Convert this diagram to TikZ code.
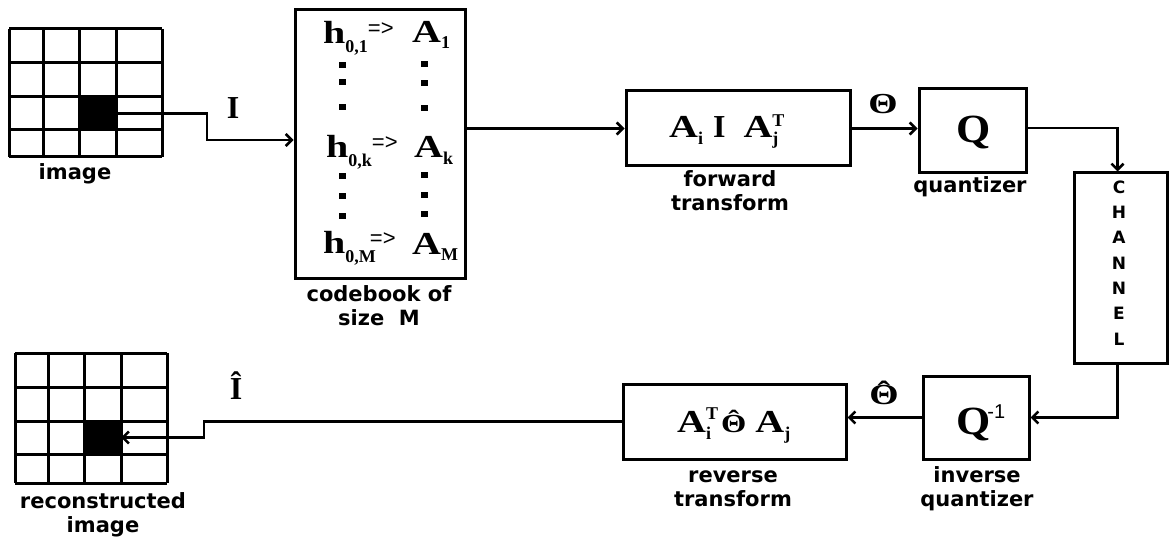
\documentclass[tikz,border=0pt]{standalone}
\usepackage{fontspec}
\setmainfont{Liberation Serif}
\newfontfamily\labfont{DejaVu Sans}
\newfontfamily\supfont{Liberation Sans}
\usetikzlibrary{arrows.meta,calc}

% lowered / raised small pieces for sub- and superscripts
\newcommand\lo[2]{\raisebox{-#1}{\fontsize{18}{18}\selectfont #2}}
\newcommand\hi[2]{\raisebox{#1}{\fontsize{18}{18}\selectfont #2}}
\newcommand\arrw{\raisebox{8pt}{\fontsize{22}{22}\selectfont\supfont\mdseries =>}}
% Theta with a circumflex on top
\newcommand\thetahat[1]{\ooalign{\char"0398\cr\hidewidth\raisebox{#1}{\char"02C6}\hidewidth\cr}}
% wide bold letters
\newcommand\wide[1]{\scalebox{1.25}[1]{#1}}

\tikzset{
  blockbox/.style={draw, line width=3pt, inner sep=0pt},
  conn/.style={line width=2.5pt},
  arr/.style={conn, -{Straight Barb[length=6pt,width=12pt]}},
  lbl/.style={font=\labfont\bfseries\fontsize{21}{24}\selectfont, align=center, inner sep=0pt},
  mtext/.style={font=\bfseries\fontsize{32}{32}\selectfont, inner sep=0pt},
  gridline/.style={line width=3pt},
  cellfill/.style={fill=black, inner sep=0pt},
  dotfill/.style={fill=black},
}

\begin{document}
\begin{tikzpicture}[x=1pt,y=-1pt]
\useasboundingbox (0,0) rectangle (1169,540);

% ---------- input image grid ----------
\node[cellfill, minimum width=37pt, minimum height=33pt] (c1) at (97.5,113.5) {};
\foreach \x in {9,43,79,116,162} \draw[gridline] (\x,29) -- (\x,157);
\foreach \y in {29,63,97,130,157} \draw[gridline] (9,\y) -- (162,\y);
\node[lbl, anchor=base] (limg) at (75,179) {image};

% ---------- codebook ----------
\node[blockbox, minimum width=170pt, minimum height=268pt] (cb) at (380,144) {};
\node[mtext, anchor=base west] (h1) at (323,44) {\wide{h}\lo{9pt}{0,1}\arrw};
\node[mtext, anchor=base west] (a1) at (412,43) {\wide{A}\lo{6pt}{1}};
\node[mtext, anchor=base west] (hk) at (326,158) {\wide{h}\lo{9pt}{0,k}\arrw};
\node[mtext, anchor=base west] (ak) at (414,158) {\wide{A}\lo{6pt}{k}};
\node[mtext, anchor=base west] (hm) at (323,253) {\wide{h}\lo{9pt}{0,M}\kern-6pt\arrw};
\node[mtext, anchor=base west] (am) at (412,254) {\wide{A}\lo{6pt}{M}};
\foreach \y in {65,82,107,176,196,216} \fill[dotfill] (339,\y-3) rectangle ++(7,6);
\foreach \y in {64,83,108,175,195,214} \fill[dotfill] (421,\y-3) rectangle ++(7,6);
\node[lbl, anchor=base] (lcb) at (379,325) {codebook of\\size\ \ M};

% ---------- forward transform ----------
\node[blockbox, minimum width=224pt, minimum height=75pt] (ft) at (738,128.5) {};
\node[mtext, anchor=base west] (ftx) at (669,138)
  {\wide{A}\lo{7pt}{i}\hspace{10pt}I\hspace{18pt}\wide{A}\makebox[0pt][l]{\hi{11pt}{T}}\lo{7pt}{j}};
\node[lbl, anchor=base] (lft) at (730,210) {forward\\transform};

% ---------- quantizer ----------
\node[blockbox, minimum width=107pt, minimum height=84pt] (q) at (972.5,131) {};
\node[font=\bfseries\fontsize{40}{40}\selectfont, inner sep=0pt] (qx) at (974,133) {\scalebox{1.1}[1]{Q}};
\node[lbl, anchor=base] (lq) at (970,193) {quantizer};

% ---------- channel ----------
\node[blockbox, minimum width=93pt, minimum height=190pt] (ch) at (1120.5,268) {};
\node[font=\labfont\bfseries\fontsize{17}{25.3}\selectfont, align=center, inner sep=0pt, anchor=base]
  (chx) at (1119,345) {C\\H\\A\\N\\N\\E\\L};

% ---------- inverse quantizer ----------
\node[blockbox, minimum width=106pt, minimum height=83pt] (qi) at (976,417.5) {};
\node[font=\bfseries\fontsize{40}{40}\selectfont, inner sep=0pt, anchor=base west] (qix) at (956,434)
  {\scalebox{1.1}[1]{Q}\kern-3pt\raisebox{16pt}{\supfont\mdseries\fontsize{20}{20}\selectfont -1}};
\node[lbl, anchor=base] (lqi) at (977,506) {inverse\\quantizer};

% ---------- reverse transform ----------
\node[blockbox, minimum width=223pt, minimum height=75pt] (rt) at (734.5,421.5) {};
\node[mtext, anchor=base west] (rtx) at (677,432)
  {\wide{A}\makebox[0pt][l]{\hi{13pt}{T}}\lo{7pt}{i}\hspace{10pt}{\fontsize{26}{26}\selectfont\wide{\thetahat{4pt}}}\hspace{9pt}\wide{A}\lo{7pt}{j}};
\node[lbl, anchor=base] (lrt) at (733,506) {reverse\\transform};

% ---------- reconstructed image grid ----------
\node[cellfill, minimum width=37pt, minimum height=33pt] (c2) at (102.5,437.5) {};
\foreach \x in {15,48,84,121,167} \draw[gridline] (\x,353) -- (\x,483);
\foreach \y in {353,387,421,454,483} \draw[gridline] (15,\y) -- (167,\y);
\node[lbl, anchor=base] (lrec) at (103,532) {reconstructed\\image};

% ---------- signal labels ----------
\node[mtext] (lI) at (233,108) {I};
\node[font=\bfseries\fontsize{29}{29}\selectfont, inner sep=0pt] (lth) at (883,104) {\scalebox{1.3}[1]{\char"0398}};
\node[font=\bfseries\fontsize{29}{29}\selectfont, inner sep=0pt] (lthh) at (884,395) {\scalebox{1.3}[1]{\thetahat{3pt}}};
\node[mtext] (lIh) at (236,386) {Î};

% ---------- connectors ----------
\coordinate (b1) at (207,0);
\coordinate (b2) at (204,0);
\coordinate (cbin) at ($(cb.west)+(0,-4)$);
\draw[arr] (c1.east) -| (b1 |- cbin) -- (cbin);
\draw[arr] (cb.east |- ft.west) -- (ft.west);
\draw[arr] (ft.east) -- (ft.east -| q.west);
\draw[arr] ($(q.east)+(0,-3)$) -| ($(ch.north)+(-3,0)$);
\draw[arr] ($(ch.south)+(-3,0)$) |- (qi.east);
\draw[arr] (qi.west) -- (qi.west -| rt.east);
\draw[arr] (rt.west) -| (b2 |- c2.east) -- (c2.east);
\end{tikzpicture}
\end{document}
